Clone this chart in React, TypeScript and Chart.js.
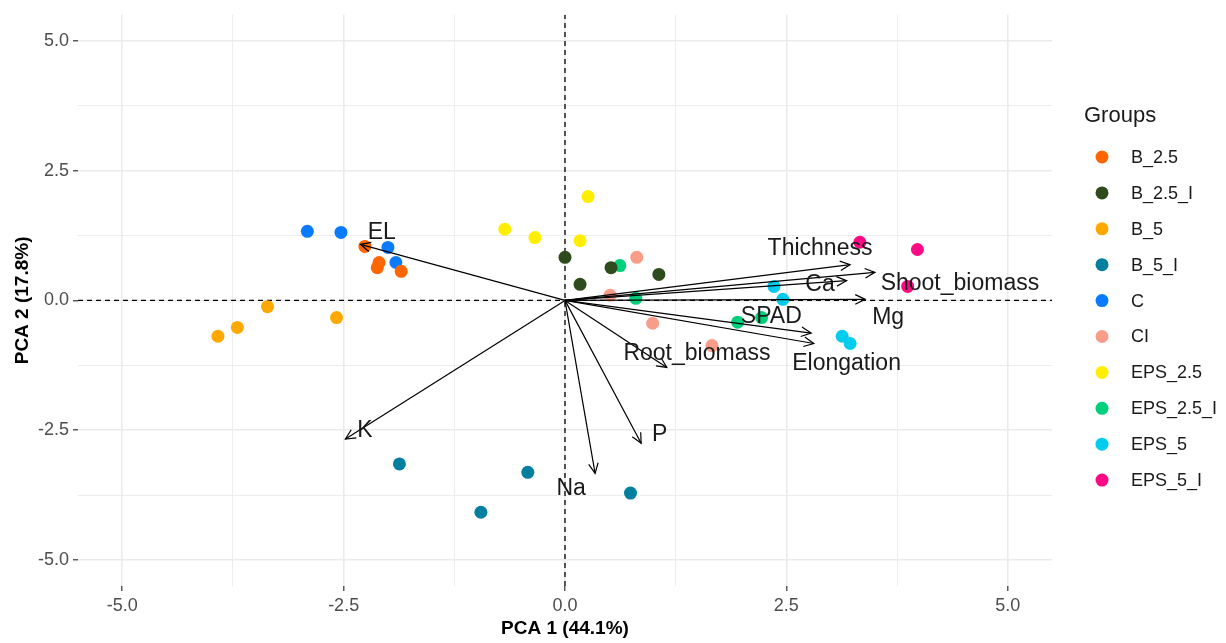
import React, { useEffect, useRef } from "react";
import { Chart, registerables } from "chart.js";

Chart.register(...registerables);

// ---- Groups (scores) ----
const groupNames = ["B_2.5", "B_2.5_I", "B_5", "B_5_I", "C", "CI", "EPS_2.5", "EPS_2.5_I", "EPS_5", "EPS_5_I"];
const groupColors = ["#FF6600", "#2D4B1C", "#FFA800", "#00809E", "#0A7BFF", "#F99C88", "#FFEE00", "#00CF7C", "#00CDEE", "#FF0A84"];

const b25X = [-2.26, -2.10, -2.12, -1.85];
const b25Y = [1.04, 0.73, 0.63, 0.56];
const b25iX = [0.0, 0.52, 0.17, 1.06];
const b25iY = [0.83, 0.63, 0.31, 0.5];
const b5X = [-3.36, -3.70, -3.92, -2.58];
const b5Y = [-0.12, -0.52, -0.69, -0.33];
const b5iX = [-1.87, -0.42, -0.95, 0.74];
const b5iY = [-3.15, -3.31, -4.08, -3.71];
const cX = [-2.91, -2.53, -2.0, -1.91];
const cY = [1.33, 1.31, 1.02, 0.73];
const ciX = [0.81, 0.51, 0.99, 1.66];
const ciY = [0.83, 0.1, -0.44, -0.87];
const eps25X = [0.26, -0.68, -0.34, 0.17];
const eps25Y = [2.0, 1.37, 1.21, 1.15];
const eps25iX = [0.62, 0.8, 1.95, 2.22];
const eps25iY = [0.67, 0.04, -0.42, -0.33];
const eps5X = [2.36, 2.46, 3.13, 3.22];
const eps5Y = [0.27, 0.02, -0.69, -0.83];
const eps5iX = [3.33, 3.98, 3.87];
const eps5iY = [1.12, 0.98, 0.27];

const groupXs = [b25X, b25iX, b5X, b5iX, cX, ciX, eps25X, eps25iX, eps5X, eps5iX];
const groupYs = [b25Y, b25iY, b5Y, b5iY, cY, ciY, eps25Y, eps25iY, eps5Y, eps5iY];

// ---- Loadings (arrows) ----
const loadingNames = ["EL", "K", "Na", "P", "Root_biomass", "SPAD", "Elongation", "Thichness", "Shoot_biomass", "Ca", "Mg"];
const loadingX = [-2.31, -2.48, 0.34, 0.86, 1.15, 2.78, 2.81, 3.22, 3.5, 3.18, 3.39];
const loadingY = [1.08, -2.67, -3.33, -2.75, -1.29, -0.63, -0.83, 0.69, 0.54, 0.38, 0.02];
const labelX = [-2.07, -2.26, 0.07, 1.07, 1.49, 2.33, 3.18, 2.88, 4.46, 2.88, 3.65];
const labelY = [1.31, -2.5, -3.63, -2.58, -1.02, -0.31, -1.21, 1.0, 0.33, 0.31, -0.33];

// ---- Axes ----
const majorTicks = [-5, -2.5, 0, 2.5, 5];
const minorTicks = [-3.75, -1.25, 1.25, 3.75];
const axisMin = -5.5;
const axisMax = 5.5;
const xTitle = "PCA 1 (44.1%)";
const yTitle = "PCA 2 (17.8%)";
const legendTitle = "Groups";

const FONT = "'Liberation Sans', Arial, Helvetica, sans-serif";

const isMajor = (v: number) => majorTicks.some((m) => Math.abs(m - v) < 1e-6);
const allTicks = [...majorTicks, ...minorTicks].sort((a, b) => a - b);

const biplotPlugin = {
  id: "biplot",
  afterDatasetsDraw(chart: any) {
    const { ctx, scales } = chart;
    const xs = scales.x;
    const ys = scales.y;
    const x0 = xs.getPixelForValue(0);
    const y0 = ys.getPixelForValue(0);
    ctx.save();
    ctx.strokeStyle = "#000";
    ctx.lineWidth = 1.2;
    loadingNames.forEach((_, i) => {
      const x1 = xs.getPixelForValue(loadingX[i]);
      const y1 = ys.getPixelForValue(loadingY[i]);
      const ang = Math.atan2(y1 - y0, x1 - x0);
      const L = 11;
      const a = Math.PI / 7;
      ctx.beginPath();
      ctx.moveTo(x1 - L * Math.cos(ang - a), y1 - L * Math.sin(ang - a));
      ctx.lineTo(x1, y1);
      ctx.lineTo(x1 - L * Math.cos(ang + a), y1 - L * Math.sin(ang + a));
      ctx.stroke();
    });
    ctx.fillStyle = "#1A1A1A";
    ctx.font = `23px ${FONT}`;
    ctx.textAlign = "center";
    ctx.textBaseline = "middle";
    loadingNames.forEach((name, i) => {
      ctx.fillText(name, xs.getPixelForValue(labelX[i]), ys.getPixelForValue(labelY[i]));
    });
    ctx.restore();
  },
  afterDraw(chart: any) {
    const { ctx } = chart;
    ctx.save();
    ctx.fillStyle = "#1A1A1A";
    ctx.textAlign = "left";
    ctx.textBaseline = "middle";
    ctx.font = `22px ${FONT}`;
    ctx.fillText(legendTitle, 1084, 116);
    ctx.font = `18px ${FONT}`;
    groupNames.forEach((g, i) => {
      const yy = 157 + i * 35.9;
      ctx.beginPath();
      ctx.fillStyle = groupColors[i];
      ctx.arc(1102, yy, 6.5, 0, Math.PI * 2);
      ctx.fill();
      ctx.fillStyle = "#1A1A1A";
      ctx.fillText(g, 1131, yy + 1);
    });
    ctx.restore();
  },
};

function axisOptions(title: string, isX: boolean) {
  return {
    type: "linear",
    min: axisMin,
    max: axisMax,
    afterBuildTicks: (s: any) => {
      s.ticks = allTicks.map((v) => ({ value: v }));
    },
    afterFit: (s: any) => {
      if (isX) s.height = 57;
      else s.width = 78;
    },
    border: { display: false },
    grid: {
      color: "#EBEBEB",
      lineWidth: (c: any) => (c.tick && isMajor(c.tick.value) ? 1.6 : 0.9),
      tickColor: (c: any) => (c.tick && isMajor(c.tick.value) ? "#333333" : "rgba(0,0,0,0)"),
      tickWidth: 1.2,
      tickLength: 5,
      drawTicks: true,
    },
    ticks: {
      autoSkip: false,
      maxRotation: 0,
      padding: isX ? 4 : 4,
      color: "#4D4D4D",
      font: { size: 18, family: FONT },
      callback: (v: any) => (isMajor(Number(v)) ? Number(v).toFixed(1) : ""),
    },
    title: {
      display: true,
      text: title,
      color: "#000",
      font: { size: 19, weight: "bold", family: FONT },
      padding: isX ? { top: 0, bottom: 3 } : { top: 11, bottom: 0 },
    },
  };
}

export default function App() {
  const ref = useRef<HTMLCanvasElement | null>(null);
  useEffect(() => {
    if (!ref.current) return;
    const datasets: any[] = [];
    // dashed reference lines
    datasets.push({
      label: "h0",
      data: [{ x: axisMin, y: 0 }, { x: axisMax, y: 0 }],
      showLine: true,
      borderColor: "#000",
      borderWidth: 1.3,
      borderDash: [5, 4],
      pointRadius: 0,
      order: 20,
    });
    datasets.push({
      label: "v0",
      data: [{ x: 0, y: axisMin }, { x: 0, y: axisMax }],
      showLine: true,
      borderColor: "#000",
      borderWidth: 1.3,
      borderDash: [5, 4],
      pointRadius: 0,
      order: 20,
    });
    groupNames.forEach((g, i) => {
      datasets.push({
        label: g,
        data: groupXs[i].map((x, j) => ({ x, y: groupYs[i][j] })),
        backgroundColor: groupColors[i],
        borderColor: groupColors[i],
        borderWidth: 0,
        pointRadius: 6.5,
        pointHoverRadius: 6.5,
        showLine: false,
        order: 10,
      });
    });
    loadingNames.forEach((n, i) => {
      datasets.push({
        label: n,
        data: [{ x: 0, y: 0 }, { x: loadingX[i], y: loadingY[i] }],
        showLine: true,
        borderColor: "#000",
        borderWidth: 1.2,
        pointRadius: 0,
        order: 1,
      });
    });
    const chart = new Chart(ref.current, {
      type: "scatter",
      data: { datasets },
      options: {
        animation: false,
        responsive: false,
        devicePixelRatio: 1,
        layout: { padding: { left: 0, top: 14, right: 174, bottom: 0 } },
        plugins: { legend: { display: false }, tooltip: { enabled: false } },
        scales: {
          x: axisOptions(xTitle, true) as any,
          y: axisOptions(yTitle, false) as any,
        },
      },
      plugins: [biplotPlugin],
    });
    return () => chart.destroy();
  }, []);
  return (
    <div style={{ position: "absolute", left: 0, top: 0, width: 1226, height: 643, background: "#fff" }}>
      <canvas ref={ref} width={1226} height={643} />
    </div>
  );
}
